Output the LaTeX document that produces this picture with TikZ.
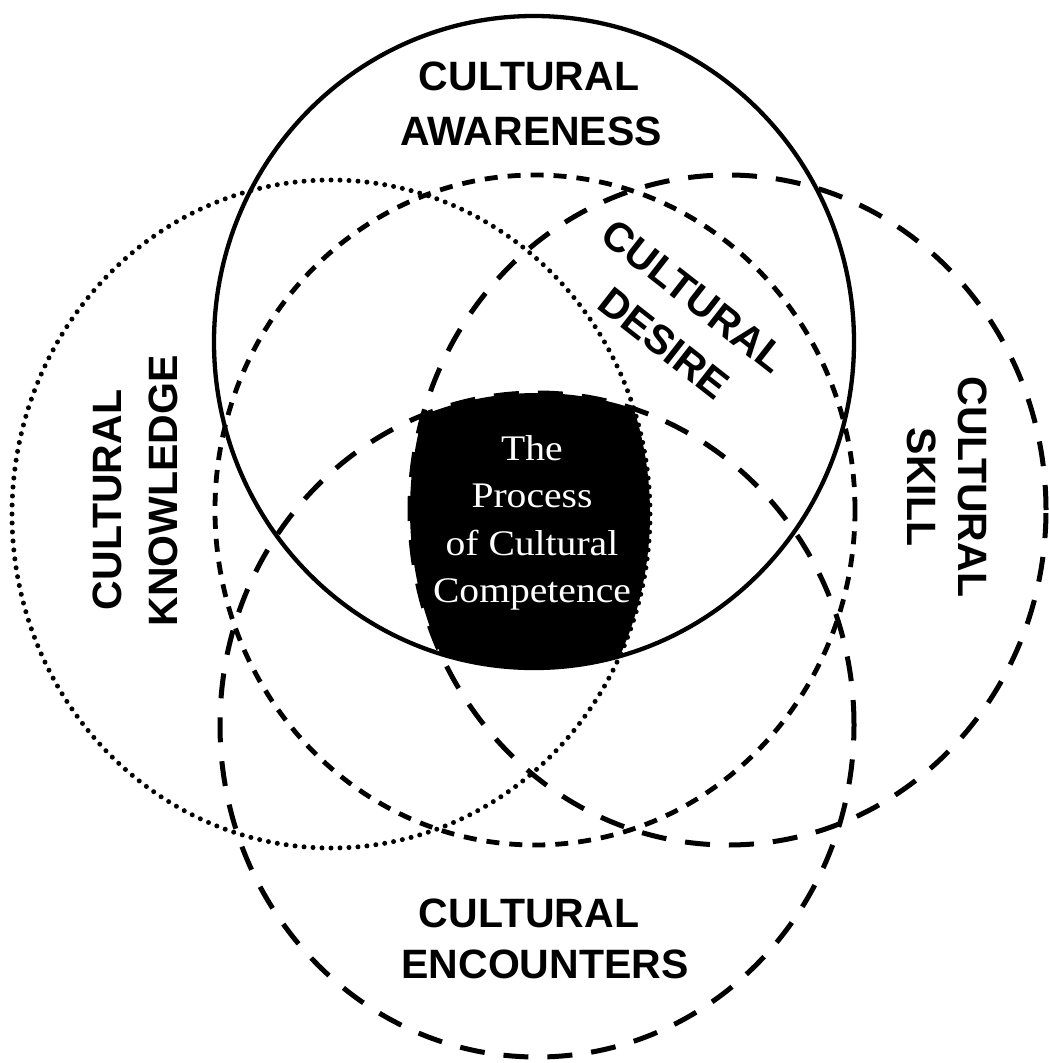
\documentclass[tikz,border=0pt]{standalone}
\usepackage{fontspec}
\setmainfont{Liberation Sans}
\newfontfamily\innerfont{Liberation Serif}[FakeStretch=1.1]
\begin{document}
\begin{tikzpicture}[x=1pt,y=1pt,
  lab/.style={font=\bfseries\fontsize{41}{41}\selectfont, inner sep=0pt, anchor=center},
  inner/.style={text=white, font=\innerfont\fontsize{36}{36}\selectfont, inner sep=0pt, anchor=base},
  aware/.style={line width=4.3pt},
  know/.style={line width=5pt, line cap=round, dash pattern=on 0pt off 9pt},
  desire/.style={line width=4.8pt, dash pattern=on 13pt off 10pt},
  longdash/.style={line width=5pt, dash pattern=on 25pt off 19pt}]
\fill[white] (0,0) rectangle (1049,-1063);
\useasboundingbox (0,0) rectangle (1049,-1063);
% circle centres
\coordinate (cA) at (534,-342);
\coordinate (cK) at (331,-514);
\coordinate (cS) at (728,-510);
\coordinate (cE) at (537,-725);
\coordinate (cD) at (535,-510);
% black core: intersection of the circles
\begin{scope}
  \clip (cA) ellipse [x radius=320, y radius=326];
  \clip (cK) ellipse [x radius=319, y radius=334];
  \clip (cS) ellipse [x radius=318, y radius=335];
  \fill[black] (cE) ellipse [x radius=317, y radius=332];
\end{scope}
% circles
\draw[aware] (cA) ellipse [x radius=320, y radius=326];
\draw[know] (cK) ellipse [x radius=319, y radius=334];
\draw[longdash] (cS) ellipse [x radius=318, y radius=335];
\draw[longdash] (cE) ellipse [x radius=317, y radius=332];
\draw[desire] (cD) ellipse [x radius=320, y radius=335];
% labels
\node[lab] (aw1) at (529,-76.5) {CULTURAL};
\node[lab] (aw2) at (531,-131) {AWARENESS};
\node[lab] (en1) at (529,-913) {CULTURAL};
\node[lab] (en2) at (545,-964) {ENCOUNTERS};
\node[lab, rotate=90] (kn1) at (107,-500) {CULTURAL};
\node[lab, rotate=90] (kn2) at (163,-491) {KNOWLEDGE};
\node[lab, rotate=-90] (sk1) at (973,-487) {CULTURAL};
\node[lab, rotate=-90] (sk2) at (922,-487) {SKILL};
\node[lab, rotate=-38] (de1) at (694,-296) {CULTURAL};
\node[lab, rotate=-38] (de2) at (664,-343) {DESIRE};
% core text
\node[inner] (t1) at (532,-460) {The};
\node[inner] (t2) at (532,-507) {Process};
\node[inner] (t3) at (532,-555) {of Cultural};
\node[inner] (t4) at (532,-602) {Competence};
\end{tikzpicture}
\end{document}
